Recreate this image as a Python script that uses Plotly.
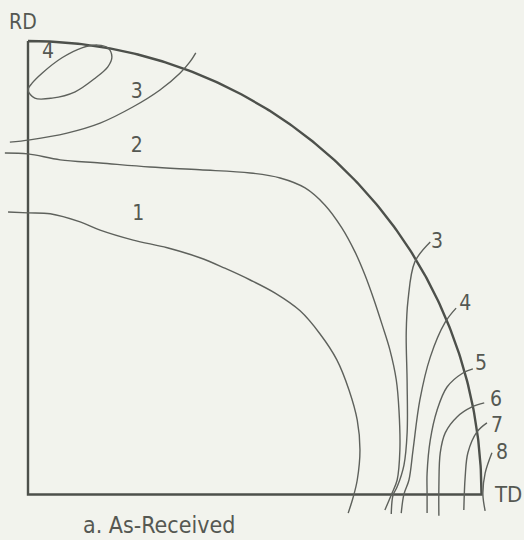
import numpy as np
import plotly.graph_objects as go

# Pole figure quadrant, coordinates in percent of the projection radius
# (u toward TD, v toward RD). Each contour is traced as (u, v) points.

c1_u = [-4.4, 0.0, 4.9, 11.5, 15.9, 23.2, 30.7, 37.9, 43.4, 49.0, 54.5, 60.0, 64.4, 68.1, 70.8, 72.6, 73.2, 72.6, 71.7, 70.6]
c1_v = [62.3, 62.1, 61.9, 60.1, 58.3, 56.1, 54.4, 52.2, 49.9, 47.3, 44.4, 40.5, 35.4, 29.7, 23.0, 16.4, 9.8, 3.2, -0.6, -4.1]

c2_u = [-5.1, 0.0, 7.1, 15.9, 26.9, 37.9, 49.0, 55.6, 61.1, 65.5, 69.2, 72.1, 74.3, 76.3, 78.1, 79.8, 81.2, 81.8, 82.0, 81.4, 80.1, 78.7]
c2_v = [75.3, 75.1, 73.8, 73.1, 72.2, 71.6, 70.9, 69.8, 67.6, 63.8, 58.8, 53.5, 48.4, 42.9, 37.4, 31.9, 25.3, 18.6, 9.8, 3.2, -0.1, -3.4]

c3a_u = [-4.0, 0.4, 8.6, 15.9, 23.2, 29.1, 33.5, 35.7, 37.0]
c3a_v = [77.7, 78.2, 79.7, 81.9, 85.5, 89.2, 92.9, 95.4, 97.4]

c3b_u = [88.7, 85.3, 83.8, 83.4, 83.6, 83.6, 82.9, 81.4, 80.5, 80.1]
c3b_v = [55.7, 51.3, 42.9, 35.6, 24.6, 13.6, 6.5, 1.7, -0.1, -4.3]

c4a_u = [0.0, 1.5, 5.3, 10.4, 14.8, 17.6, 18.5, 17.6, 15.4, 11.9, 7.5, 3.1, 0.9, 0.0]
c4a_v = [89.2, 87.4, 87.4, 88.8, 91.8, 94.3, 96.5, 98.5, 99.1, 98.5, 96.3, 92.9, 90.7, 89.2]

c4b_u = [94.4, 92.0, 88.7, 86.4, 84.9, 84.0, 82.9, 82.3]
c4b_v = [41.1, 38.0, 30.3, 20.8, 9.8, 3.2, 0.1, -4.1]

c5_u = [98.1, 95.9, 92.4, 90.2, 88.7, 88.0, 88.0, 88.0]
c5_v = [27.7, 26.8, 23.7, 18.6, 12.0, 4.7, 0.1, -4.1]

c6_u = [100.6, 97.9, 94.6, 92.0, 90.9, 90.6, 90.6]
c6_v = [20.2, 19.3, 17.1, 13.6, 9.2, 1.7, -4.7]

c7_u = [101.2, 99.0, 97.0, 96.4, 96.1]
c7_v = [15.8, 13.8, 9.2, 3.9, -3.4]

c8_u = [102.3, 100.8, 100.3, 100.8]
c8_v = [9.2, 4.7, 0.1, -3.6]

contours = [
    (c1_u, c1_v), (c2_u, c2_v), (c3a_u, c3a_v), (c3b_u, c3b_v),
    (c4a_u, c4a_v), (c4b_u, c4b_v), (c5_u, c5_v), (c6_u, c6_v),
    (c7_u, c7_v), (c8_u, c8_v),
]

# Contour level labels
label_text = ["1", "2", "3", "4", "3", "4", "5", "6", "7", "8"]
label_u = [24.3, 24.0, 24.0, 4.4, 90.2, 96.4, 99.9, 103.2, 103.4, 104.5]
label_v = [61.6, 76.6, 88.5, 97.4, 55.5, 41.8, 28.6, 20.6, 14.9, 8.9]

INK = "#4d504b"
THIN = "#5e615c"
TEXT = "#555852"
BG = "#f2f3ed"
FONT = "DejaVu Sans Condensed, Liberation Sans Narrow, sans-serif"

fig = go.Figure()

# Quadrant boundary: RD axis, TD axis and the outer circle
theta = np.linspace(0, np.pi / 2, 200)
bu = np.concatenate([[0, 0], 100 * np.cos(theta)])
bv = np.concatenate([[100, 0], 100 * np.sin(theta)])
fig.add_trace(go.Scatter(x=bu, y=bv, mode="lines",
                         line=dict(color=INK, width=2.4),
                         hoverinfo="skip", showlegend=False))

for u, v in contours:
    fig.add_trace(go.Scatter(x=u, y=v, mode="lines",
                             line=dict(color=THIN, width=1.4, shape="spline", smoothing=1.0),
                             hoverinfo="skip", showlegend=False))

fig.add_trace(go.Scatter(x=label_u, y=label_v, mode="text", text=label_text,
                         textfont=dict(family=FONT, size=21, color=TEXT),
                         hoverinfo="skip", showlegend=False))

fig.add_annotation(x=-1.2, y=104.3, text="RD", showarrow=False,
                   font=dict(family=FONT, size=21, color=TEXT))
fig.add_annotation(x=105.8, y=0.1, text="TD", showarrow=False,
                   font=dict(family=FONT, size=22, color=TEXT))
fig.add_annotation(x=28.9, y=-6.7, text="a. As-Received", showarrow=False,
                   font=dict(family=FONT, size=23, color=TEXT))

fig.update_layout(
    width=524, height=540,
    margin=dict(l=0, r=0, t=0, b=0),
    paper_bgcolor=BG, plot_bgcolor=BG,
    xaxis=dict(range=[-6.174, 109.37], visible=False, fixedrange=True),
    yaxis=dict(range=[-10.03, 109.04], visible=False, fixedrange=True),
)

fig.write_html("out.html")
